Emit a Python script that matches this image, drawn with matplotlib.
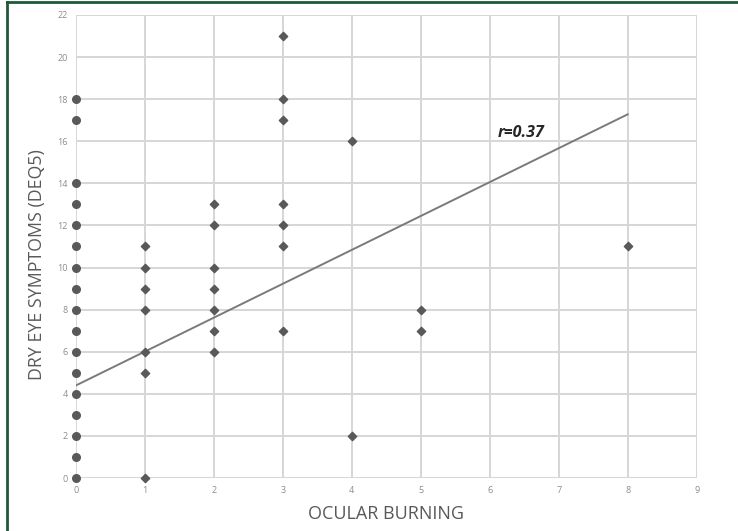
import matplotlib
matplotlib.use("Agg")
import matplotlib.pyplot as plt
import numpy as np

# Ocular burning (x) vs dry eye symptoms DEQ5 (y)
burning = [0]*17 + [1]*7 + [2]*7 + [3]*7 + [4]*2 + [5]*2 + [8]
deq5 = [0, 1, 2, 3, 4, 5, 6, 7, 8, 9, 10, 11, 12, 13, 14, 17, 18,
        0, 5, 6, 8, 9, 10, 11,
        6, 7, 8, 9, 10, 12, 13,
        7, 11, 12, 13, 17, 18, 21,
        2, 16,
        7, 8,
        11]

# trend line
trend_intercept = 4.4
trend_slope = 1.61
trend_x = [0, 8]
r_label = "r=0.37"

xticks = list(range(0, 10))
yticks = list(range(0, 23, 2))

plt.rcParams['font.family'] = ['Open Sans', 'DejaVu Sans']

fig = plt.figure(figsize=(7.38, 5.31), dpi=100)
ax = fig.add_axes([0.103, 0.0998, 0.841, 0.872])

ax.set_xlim(0, 9)
ax.set_ylim(0, 22)
ax.set_xticks(xticks)
ax.set_yticks(yticks)
ax.grid(True, color='#d6d6d6', linewidth=1.4)
ax.set_axisbelow(True)
for s in ax.spines.values():
    s.set_visible(False)
ax.tick_params(length=0, labelsize=6.5, colors='#8c8c8c', pad=6)

x = np.array(burning)
y = np.array(deq5)
zero = x == 0
ax.scatter(x[zero], y[zero], marker='o', s=30, color='#595959', zorder=3, clip_on=False)
ax.scatter(x[~zero], y[~zero], marker='D', s=18, color='#595959', zorder=3, clip_on=False)

tx = np.array(trend_x)
ax.plot(tx, trend_intercept + trend_slope*tx, color='#7a7a7a', linewidth=1.4, zorder=2)
ax.text(6.12, 16.4, r_label, fontsize=11.5, fontweight='bold', fontstyle='italic',
        color='#262626', va='center', ha='left')

ax.set_xlabel("OCULAR BURNING", fontsize=13, color='#595959')
ax.xaxis.set_label_coords(0.5, -0.058)
ax.set_ylabel("DRY EYE SYMPTOMS (DEQ5)", fontsize=12.8, color='#595959')
ax.yaxis.set_label_coords(-0.048, 0.462)

# dark green frame on top and left
fig.add_artist(plt.Line2D([0.0095, 0.0095], [0, 0.996], transform=fig.transFigure,
                          color='#1f5a3a', linewidth=2))
fig.add_artist(plt.Line2D([0.0095, 1], [0.996, 0.996], transform=fig.transFigure,
                          color='#1f5a3a', linewidth=2))

fig.savefig('out.png', dpi=100)
